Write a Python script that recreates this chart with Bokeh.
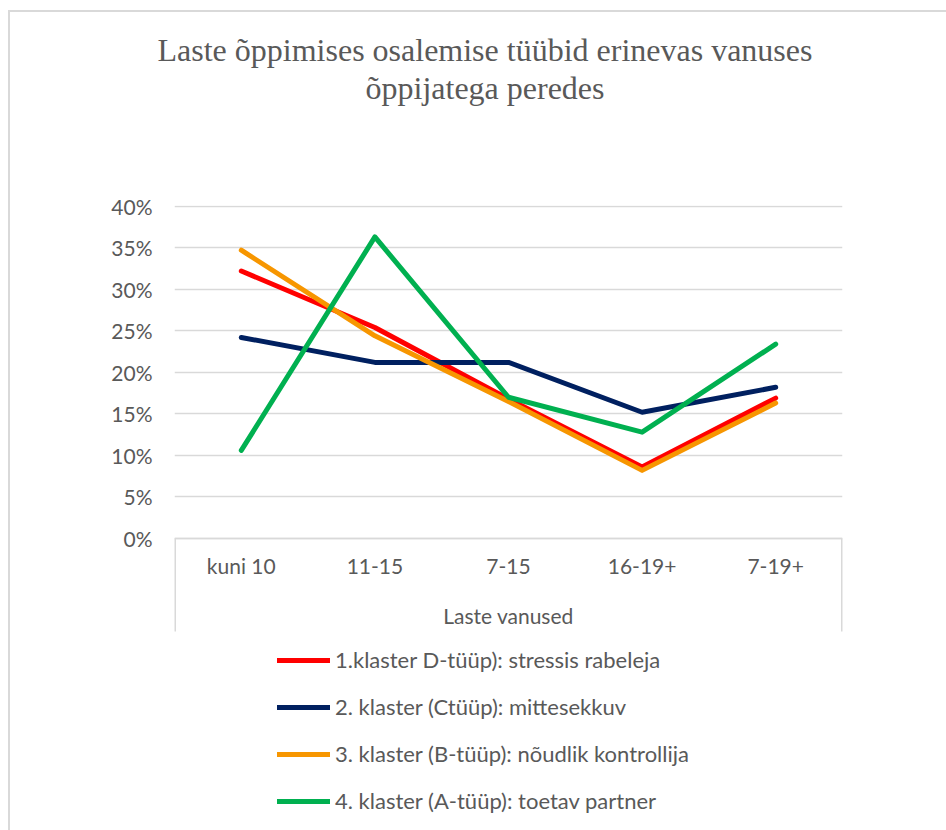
from bokeh.plotting import figure
from bokeh.models import (Range1d, FactorRange, FixedTicker, NumeralTickFormatter,
                          Legend, LegendItem, Title, ColumnDataSource)
from bokeh.embed import file_html
from bokeh.resources import INLINE

# ---------------- data ----------------
title_line1 = "Laste õppimises osalemise tüübid erinevas vanuses"
title_line2 = "õppijatega peredes"
categories = ["kuni 10", "11-15", "7-15", "16-19+", "7-19+"]
x_axis_label = "Laste vanused"
series_names = [
    "1.klaster D-tüüp): stressis rabeleja",
    "2. klaster (Ctüüp): mittesekkuv",
    "3. klaster (B-tüüp): nõudlik kontrollija",
    "4. klaster (A-tüüp): toetav partner",
]
cluster1 = [0.322, 0.254, 0.168, 0.086, 0.169]
cluster2 = [0.242, 0.212, 0.212, 0.152, 0.182]
cluster3 = [0.347, 0.244, 0.165, 0.082, 0.163]
cluster4 = [0.106, 0.363, 0.170, 0.128, 0.234]
y_ticks = [0.0, 0.05, 0.10, 0.15, 0.20, 0.25, 0.30, 0.35, 0.40]
colors = ["#FF0000", "#002060", "#F79600", "#00B050"]

# ---------------- layout constants ----------------
TEXT = "#595959"
GRID = "#D9D9D9"
SANS = "Lato"
Y_START, Y_END = -0.3515, 0.40084   # frame reaches down to hold the legend
AXIS_BOX_BOTTOM = -0.112            # bottom of the category-axis box

p = figure(
    x_range=FactorRange(*categories, range_padding=0),
    y_range=Range1d(Y_START, Y_END),
    frame_width=668, frame_height=625,
    min_border_left=164, min_border_right=104,
    min_border_top=193, min_border_bottom=0,
    output_backend="svg", toolbar_location=None,
    background_fill_color="white", border_fill_color="white",
)
p.outline_line_color = None
p.margin = (10, 0, 0, 8)
p.styles = {"border-left": "2px solid #D9D9D9", "border-top": "2px solid #D9D9D9"}

# titles: spacer nearest the plot, then line 2, then line 1
p.add_layout(Title(text=" ", text_font_size="1px", standoff=97), "above")
p.add_layout(Title(text=title_line2, align="left", offset=191, standoff=0,
                   text_font="Liberation Serif", text_font_size="32px",
                   text_font_style="normal", text_color=TEXT), "above")
p.add_layout(Title(text=title_line1, align="left", offset=-17, standoff=0,
                   text_font="Liberation Serif", text_font_size="32px",
                   text_font_style="normal", text_color=TEXT), "above")

# y axis
p.yaxis.ticker = FixedTicker(ticks=y_ticks)
p.yaxis.formatter = NumeralTickFormatter(format="0%")
p.yaxis.axis_line_color = None
p.yaxis.major_tick_line_color = None
p.yaxis.minor_tick_line_color = None
p.yaxis.major_tick_out = 0
p.yaxis.major_tick_in = 0
p.yaxis.major_label_standoff = 22
p.yaxis.major_label_text_font = SANS
p.yaxis.major_label_text_font_size = "21px"
p.yaxis.major_label_text_color = TEXT

p.ygrid.grid_line_color = GRID
p.ygrid.grid_line_width = 1.5
p.xgrid.grid_line_color = None

# x axis, drawn at the 0% line
p.xaxis.fixed_location = 0
p.xaxis.axis_line_color = GRID
p.xaxis.axis_line_width = 1.5
p.xaxis.major_tick_line_color = None
p.xaxis.minor_tick_line_color = None
p.xaxis.major_tick_out = 0
p.xaxis.major_tick_in = 0
p.xaxis.major_label_standoff = 15
p.xaxis.major_label_text_font = SANS
p.xaxis.major_label_text_font_size = "21px"
p.xaxis.major_label_text_color = TEXT
p.xaxis.axis_label = x_axis_label
p.xaxis.axis_label_standoff = 21
p.xaxis.axis_label_text_font = SANS
p.xaxis.axis_label_text_font_size = "21px"
p.xaxis.axis_label_text_font_style = "normal"
p.xaxis.axis_label_text_color = TEXT

# side borders of the category-axis box
n = len(categories)
p.segment(x0=[0, n], y0=[0, 0], x1=[0, n],
          y1=[AXIS_BOX_BOTTOM, AXIS_BOX_BOTTOM], line_color=GRID, line_width=3)

items = []
for name, vals, col in zip(series_names, [cluster1, cluster2, cluster3, cluster4], colors):
    src = ColumnDataSource(dict(x=categories, y=vals))
    r = p.line("x", "y", source=src, line_color=col, line_width=5,
               line_cap="round", line_join="round")
    items.append(LegendItem(label=name, renderers=[r]))

legend = Legend(items=items, location=(103, 16), orientation="vertical",
                glyph_width=53, glyph_height=20, label_height=20, spacing=20,
                label_standoff=5, padding=0, margin=0,
                border_line_color=None, background_fill_alpha=0,
                label_text_font=SANS, label_text_font_size="22px",
                label_text_color=TEXT)
p.add_layout(legend, "center")

open("out.html", "w").write(file_html(p, INLINE))
